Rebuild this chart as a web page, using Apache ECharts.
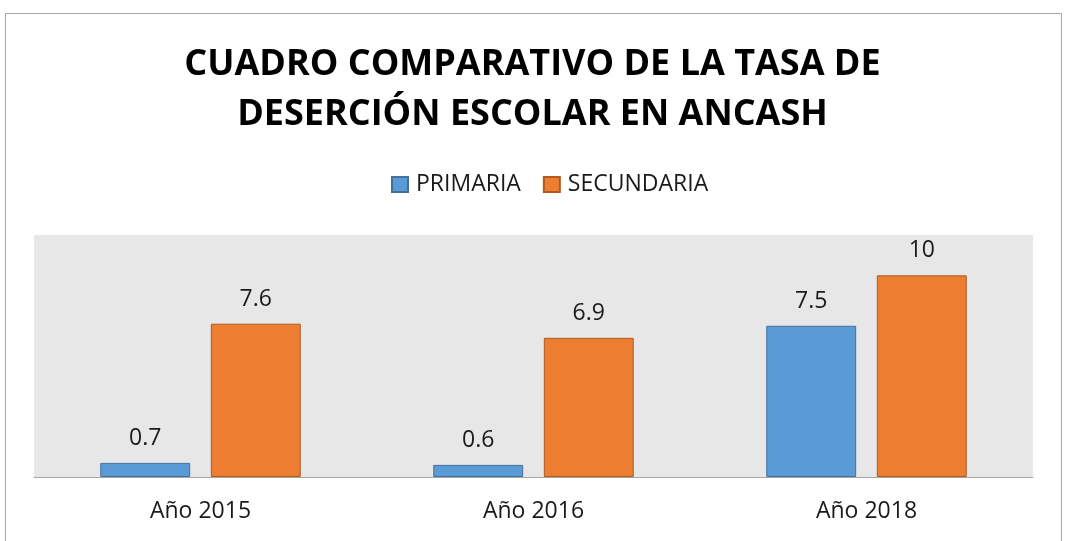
<!DOCTYPE html>
<html>
<head>
<meta charset="utf-8">
<script src="https://cdn.jsdelivr.net/npm/echarts@6/dist/echarts.min.js"></script>
<style>
  html, body { margin: 0; padding: 0; background: #fff; }
  #main { width: 1065px; height: 541px; }
</style>
</head>
<body>
<div id="main"></div>
<script>
// datos
var anios = ['Año 2015', 'Año 2016', 'Año 2018'];
var primaria = [0.7, 0.6, 7.5];
var secundaria = [7.6, 6.9, 10];

var myChart = echarts.init(document.getElementById('main'));
var fuente = '"Open Sans", "Noto Sans", sans-serif';

var option = {
    animation: false,
    textStyle: { fontFamily: fuente },
    title: {
        text: 'CUADRO COMPARATIVO DE LA TASA DE\nDESERCIÓN ESCOLAR EN ANCASH',
        left: 'center',
        top: 35,
        textStyle: { fontSize: 36, fontWeight: 'bold', color: '#000', lineHeight: 50, fontFamily: fuente }
    },
    legend: {
        top: 168,
        left: 386,
        itemWidth: 16,
        itemHeight: 15,
        itemGap: 22,
        icon: 'rect',
        textStyle: { fontSize: 23, color: '#1a1a1a', fontFamily: fuente, padding: [0, 0, 0, 3] },
        data: ['PRIMARIA', 'SECUNDARIA']
    },
    graphic: [
        { type: 'rect', shape: { x: 5.5, y: 13.5, width: 1056, height: 540 },
          style: { fill: 'none', stroke: '#a6a6a6', lineWidth: 1 }, silent: true }
    ],
    grid: {
        left: 34, right: 32, top: 235, bottom: 64,
        show: true, backgroundColor: '#e7e7e7', borderWidth: 0
    },
    xAxis: {
        type: 'category',
        data: anios,
        axisLine: { lineStyle: { color: '#a6a6a6', width: 1 } },
        axisTick: { show: false },
        axisLabel: { fontSize: 23, color: '#1a1a1a', margin: 23, fontFamily: fuente }
    },
    yAxis: {
        type: 'value',
        min: 0, max: 12, interval: 2,
        show: false,
        splitLine: { show: false }
    },
    series: [
        {
            name: 'PRIMARIA', type: 'bar', data: primaria,
            barWidth: '27%', barGap: '23%',
            itemStyle: { color: '#5b9bd5', borderColor: '#41719c', borderWidth: 1 },
            label: { show: true, position: 'top', distance: 13, fontSize: 23, color: '#1a1a1a', fontFamily: fuente }
        },
        {
            name: 'SECUNDARIA', type: 'bar', data: secundaria,
            barWidth: '27%', barGap: '23%',
            itemStyle: { color: '#ed7d31', borderColor: '#ae5a21', borderWidth: 1 },
            label: { show: true, position: 'top', distance: 13, fontSize: 23, color: '#1a1a1a', fontFamily: fuente }
        }
    ]
};
myChart.setOption(option);
</script>
</body>
</html>
